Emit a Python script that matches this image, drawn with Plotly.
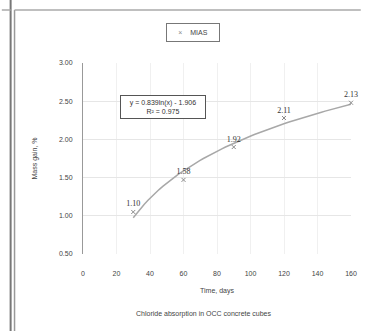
import numpy as np
import plotly.graph_objects as go

# Data
days = [30, 60, 90, 120, 160]
mass_gain = [1.05, 1.47, 1.90, 2.28, 2.48]
point_labels = ["1.10", "1.58", "1.92", "2.11", "2.13"]
series_name = "MIAS"
x_ticks = [0, 20, 40, 60, 80, 100, 120, 140, 160]
y_ticks = [0.5, 1.0, 1.5, 2.0, 2.5, 3.0]
y_tick_text = ["0.50", "1.00", "1.50", "2.00", "2.50", "3.00"]
equation_text = "y = 0.839ln(x) - 1.906<br>R² = 0.975"
x_title = "Time, days"
y_title = "Mass gain, %"
caption = "Chloride absorption in OCC concrete cubes"

# Logarithmic trendline fitted to the data
a, b = np.polyfit(np.log(days), mass_gain, 1)
trend_x = np.linspace(min(days), max(days), 60)
trend_y = a * np.log(trend_x) + b

FONT = "Liberation Sans"

fig = go.Figure()
fig.add_trace(go.Scatter(
    x=trend_x, y=trend_y, mode="lines",
    line=dict(color="#a8a8a8", width=1.5),
    showlegend=False, hoverinfo="skip"))
fig.add_trace(go.Scatter(
    x=days, y=mass_gain, mode="markers+text", name=series_name, showlegend=False,
    marker=dict(symbol="x-thin", size=4, color="#8a8a8a",
                line=dict(color="#8a8a8a", width=1)),
    text=point_labels, textposition="top center", cliponaxis=False,
    textfont=dict(family="Liberation Serif", size=8, color="#333333")))

fig.add_annotation(x=48, y=2.425, xref="x", yref="y", text=equation_text,
                   showarrow=False, font=dict(family=FONT, size=7, color="#333"),
                   bordercolor="#555", borderwidth=1, borderpad=3,
                   bgcolor="white", width=78, align="center")

# legend box
fig.add_annotation(x=(195 - 83) / 274, y=(254 - 33) / 191, xref="paper", yref="paper",
                   text="<span style='color:#8a8a8a'>×</span>    " + series_name,
                   showarrow=False, font=dict(family=FONT, size=7, color="#444"),
                   bordercolor="#777", borderwidth=1, borderpad=3, bgcolor="white",
                   width=46, height=11, xanchor="center", yanchor="middle")

fig.add_annotation(x=(207 - 83) / 274, y=(254 - 320) / 191, xref="paper", yref="paper",
                   text=caption, showarrow=False,
                   font=dict(family=FONT, size=7, color="#444"))

# document frame lines
shapes = [
    dict(type="line", xref="paper", yref="paper", x0=(9 - 83) / 274, x1=(9 - 83) / 274,
         y0=(254 - 0) / 191, y1=(254 - 331) / 191, line=dict(color="#777", width=2)),
    dict(type="line", xref="paper", yref="paper", x0=(13 - 83) / 274, x1=(13 - 83) / 274,
         y0=(254 - 10) / 191, y1=(254 - 331) / 191, line=dict(color="#999", width=1.5)),
    dict(type="line", xref="paper", yref="paper", x0=(13 - 83) / 274, x1=(367 - 83) / 274,
         y0=(254 - 10) / 191, y1=(254 - 10) / 191, line=dict(color="#aaa", width=1.5)),
    dict(type="line", xref="paper", yref="paper", x0=(0 - 83) / 274, x1=(9 - 83) / 274,
         y0=(254 - 10) / 191, y1=(254 - 10) / 191, line=dict(color="#aaa", width=1.5)),
]

fig.update_layout(
    width=367, height=331,
    margin=dict(l=83, r=10, t=63, b=77),
    paper_bgcolor="white", plot_bgcolor="white",
    font=dict(family=FONT, size=7, color="#444"),
    shapes=shapes,
    showlegend=False,
    xaxis=dict(range=[0, 160], tickvals=x_ticks, showgrid=True, gridcolor="#f0f0f0",
               zeroline=False, showline=False, ticks="", ticklabelstandoff=14,
               title=dict(text=x_title, standoff=12, font=dict(size=7))),
    yaxis=dict(range=[0.5, 3.0], tickvals=y_ticks, ticktext=y_tick_text, showgrid=True,
               gridcolor="#e6e6e6", zeroline=False, showline=True, linecolor="#999",
               ticks="", ticklabelstandoff=8,
               title=dict(text=y_title, standoff=20, font=dict(size=7))),
)

fig.write_html("out.html")
